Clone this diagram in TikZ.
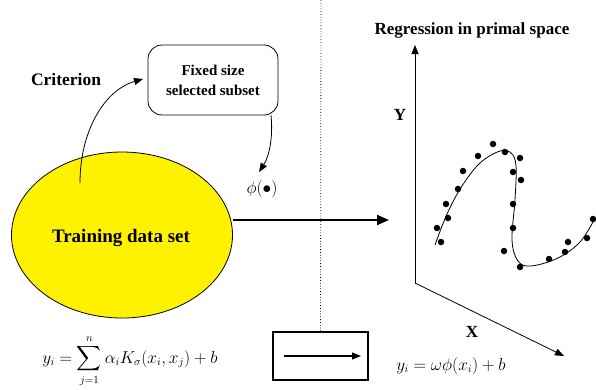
\documentclass[tikz,border=0pt]{standalone}
\usepackage{amsmath}
\usepackage{fontspec}
\setmainfont{Liberation Serif}
\usetikzlibrary{arrows.meta,shapes.geometric}
\begin{document}
\begin{tikzpicture}[x=1pt,y=-1pt,
  arr/.style={line width=1.1pt,-{Triangle[length=9pt,width=7pt]}},
  lbl/.style={font=\bfseries\fontsize{17}{20}\selectfont, inner sep=0pt},
  dot/.style={circle,fill=black,inner sep=0pt,minimum size=6.5pt}]
\useasboundingbox (0,0) rectangle (596,389);
% training set
\node[ellipse,draw,line width=0.8pt,fill=yellow,minimum width=221pt,minimum height=166pt,inner sep=0pt] (ts) at (122,235) {};
\node[lbl,font=\bfseries\fontsize{19}{22}\selectfont] (tst) at (121,238) {Training data set};
% criterion
\node[lbl,font=\bfseries\fontsize{17.5}{20}\selectfont] (crit) at (66,80) {Criterion};
\coordinate (cs) at (80,183);
\node[draw,rounded corners=14pt,line width=0.8pt,minimum width=130pt,minimum height=70pt,align=center,font=\bfseries\fontsize{15}{20}\selectfont] (box) at (213,80) {Fixed size\\selected subset};
\coordinate (ce) at (143,79);
\draw[arr,line width=0.8pt] (cs) .. controls (80,130) and (105,90) .. (ce);
\coordinate (bs) at (271,115);
\coordinate (be) at (259,172);
\draw[arr,line width=0.8pt] (bs) .. controls (273,135) and (270,155) .. (be);
\node[inner sep=0pt,font=\fontsize{17}{20}\selectfont] (phi) at (262,189) {$\phi(\bullet)$};
% dotted line
\coordinate (dt) at (321,0);
\node[draw,line width=1.2pt,minimum width=95pt,minimum height=48pt,inner sep=0pt] (sb) at (320.5,356) {};
\draw[dotted,line width=0.8pt] (dt) -- (sb.north);
\coordinate (sa) at (284,356);
\coordinate (sae) at (361,356);
\draw[arr] (sa) -- (sae);
% main arrow
\coordinate (ma) at (389,220);
\draw[line width=2pt,-{Triangle[length=12pt,width=10pt]}] (ts.east |- 0,220) -- (ma);
% axes
\coordinate (o) at (415,283);
\coordinate (ytip) at (415,45);
\coordinate (xtip) at (564,356);
\draw[arr,line width=0.8pt] (o) -- (ytip);
\draw[arr,line width=0.8pt] (o) -- (xtip);
\node[lbl] (ylab) at (400,115) {Y};
\node[lbl] (xlab) at (472,332) {X};
\node[lbl] (title) at (472,30) {Regression in primal space};
% curve
\draw[line width=0.8pt] plot[smooth,tension=0.6] coordinates {(435,245) (447,214) (462,186) (480,163) (500,151) (511,153) (516,166) (515,200) (512,240) (518,261) (531,266) (558,258) (580,242) (594,220)};
\foreach \p [count=\i] in {(493,144),(478,156),(505,152),(520,158),(463,171),(513,172),(521,180),(458,189),(446,204),(513,204),(448,218),(513,228),(437,228),(441,242),(504,251),(520,267),(549,259),(565,252),(568,242),(587,238),(593,219)}
  \node[dot] (d\i) at \p {};
% formulas
\node[inner sep=0pt,font=\fontsize{16}{19}\selectfont] (f1) at (130,361) {$\displaystyle y_i=\sum_{j=1}^{n}\alpha_i K_\sigma(x_i,x_j)+b$};
\node[inner sep=0pt,font=\fontsize{16}{19}\selectfont] (f2) at (451,366) {$y_i=\omega\phi(x_i)+b$};
\end{tikzpicture}
\end{document}
